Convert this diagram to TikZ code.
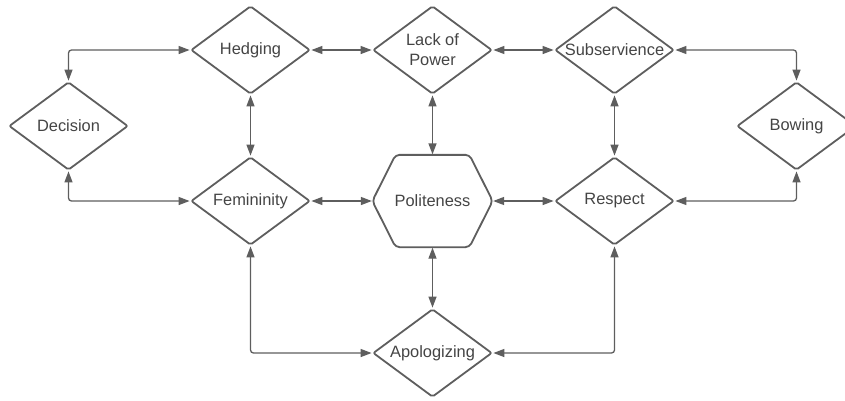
\documentclass[tikz,border=0pt]{standalone}
\usepackage{fontspec}
\setmainfont{Liberation Sans}
\usetikzlibrary{arrows.meta}
\usetikzlibrary{positioning}
\usetikzlibrary{shapes.geometric}
\definecolor{linegray}{HTML}{5E5E5E}
\definecolor{textgray}{HTML}{444444}

\begin{document}
\begin{tikzpicture}[<->,>={Triangle[length=11pt,width=8pt]},shorten >=0.5pt,shorten <=0.5pt,
  node distance=182pt,on grid,color=linegray,line width=1.3pt,
  main node/.style={diamond,draw=linegray,line width=1.8pt,rounded corners=2pt,inner xsep=-2pt,inner ysep=0pt,
    shape aspect=1.35,minimum width=119pt,minimum height=88pt,align=center,text=textgray,
    font=\fontsize{16.4}{20}\selectfont},
  hex node/.style={rectangle,inner sep=0pt,minimum width=119pt,minimum height=91pt,text=textgray,
    font=\fontsize{16.4}{20}\selectfont}]

  \useasboundingbox (0,0) rectangle (845pt,-400pt);

  \node[main node] (hedge) at (250.5pt,-50pt) {Hedging};
  \node[main node] (lack) [right=of hedge] {Lack of\\Power};
  \node[main node] (subs) [right=of lack] {Subservience};
  \node[main node] (fem) [below=151pt of hedge] {Femininity};
  \node[hex node] (polite) [below=151pt of lack] {Politeness};
  \node[main node] (resp) [below=151pt of subs] {Respect};
  \node[main node] (apol) [below=152pt of polite] {Apologizing};
  \node[main node] (dec) [below left=76pt and 182pt of hedge] {Decision};
  \node[main node] (bow) [below right=76pt and 182pt of subs] {Bowing};

  % hexagon round politeness
  \draw[-,line width=1.8pt,rounded corners=4pt] (polite.west) -- ([xshift=-37pt]polite.north)
    -- ([xshift=37pt]polite.north) -- (polite.east) -- ([xshift=37pt]polite.south)
    -- ([xshift=-37pt]polite.south) -- cycle;

  \path
    (hedge) edge (lack)
    (lack) edge (subs)
    (fem) edge (polite)
    (polite) edge (resp)
    (hedge) edge (fem)
    (lack) edge (polite)
    (subs) edge (resp)
    (polite) edge (apol);

  \draw[rounded corners=3pt] (dec.north) |- (hedge.west);
  \draw[rounded corners=3pt] (dec.south) |- (fem.west);
  \draw[rounded corners=3pt] (bow.north) |- (subs.east);
  \draw[rounded corners=3pt] (bow.south) |- (resp.east);
  \draw[rounded corners=3pt] (fem.south) |- (apol.west);
  \draw[rounded corners=3pt] (resp.south) |- (apol.east);
\end{tikzpicture}
\end{document}
